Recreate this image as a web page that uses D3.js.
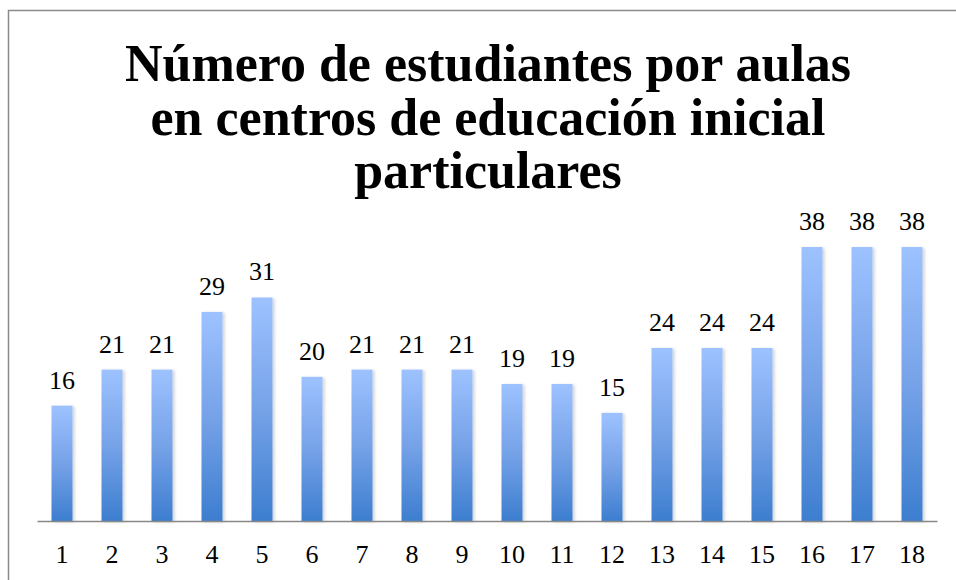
<!DOCTYPE html>
<html><head><meta charset="utf-8">
<script src="https://cdn.jsdelivr.net/npm/d3@7"></script>
<style>body{margin:0;background:#fff}svg{display:block}</style>
</head><body>
<script>
const categories = ["1","2","3","4","5","6","7","8","9","10","11","12","13","14","15","16","17","18"];
const values = [16,21,21,29,31,20,21,21,21,19,19,15,24,24,24,38,38,38];
const titleLines = ["Número de estudiantes por aulas","en centros de educación inicial","particulares"];

const W = 956, H = 580;
const svg = d3.select("body").append("svg").attr("width", W).attr("height", H);

const defs = svg.append("defs");
const grad = defs.append("linearGradient").attr("id","barGrad").attr("x1",0).attr("y1",0).attr("x2",0).attr("y2",1);
grad.append("stop").attr("offset","0%").attr("stop-color","#9dc2ff");
grad.append("stop").attr("offset","50%").attr("stop-color","#76a2e8");
grad.append("stop").attr("offset","100%").attr("stop-color","#3d7ecf");
const f = defs.append("filter").attr("id","shadow").attr("x","-30%").attr("y","-5%").attr("width","160%").attr("height","110%");
f.append("feDropShadow").attr("dx",2).attr("dy",1).attr("stdDeviation",1.5).attr("flood-color","#000").attr("flood-opacity",0.18);

// border
svg.append("rect").attr("x",8.5).attr("y",10.5).attr("width",1000).attr("height",700)
  .attr("fill","none").attr("stroke","#8a8a8a").attr("stroke-width",1.5);

// title
const title = svg.append("text").attr("text-anchor","middle")
  .attr("font-family","'Liberation Serif', 'DejaVu Serif', serif").attr("font-weight","bold")
  .attr("font-size",52).attr("fill","#000");
titleLines.forEach((t,i)=>{
  title.append("tspan").attr("x",488).attr("y",81 + i*53.5).text(t);
});

const left = 37, right = 937, baseY = 521, topY = 232.6;
const x = d3.scaleBand().domain(categories).range([left,right]).paddingInner(0.58).paddingOuter(0.29);
const y = d3.scaleLinear().domain([0,40]).range([baseY, topY]);

const g = svg.append("g");
g.selectAll("rect.bar").data(values).join("rect").attr("class","bar")
  .attr("x",(d,i)=>x(categories[i]))
  .attr("y",d=>y(d))
  .attr("width",x.bandwidth())
  .attr("height",d=>baseY - y(d))
  .attr("fill","url(#barGrad)")
  .attr("filter","url(#shadow)");

// labels
g.selectAll("text.val").data(values).join("text").attr("class","val")
  .attr("x",(d,i)=>x(categories[i]) + x.bandwidth()/2)
  .attr("y",d=>y(d) - 17)
  .attr("text-anchor","middle")
  .attr("font-family","'Liberation Serif', 'DejaVu Serif', serif")
  .attr("font-size",26).attr("fill","#000")
  .text(d=>d);

// axis
const axis = d3.axisBottom(x).tickSize(0).tickPadding(0);
const ax = svg.append("g").attr("transform",`translate(0,${baseY})`).call(axis);
ax.select(".domain").attr("stroke","#888").attr("stroke-width",1.5);
ax.selectAll(".tick text").attr("font-family","'Liberation Serif', 'DejaVu Serif', serif")
  .attr("font-size",26).attr("fill","#000").attr("dy",null).attr("y",42);
</script>
</body></html>
